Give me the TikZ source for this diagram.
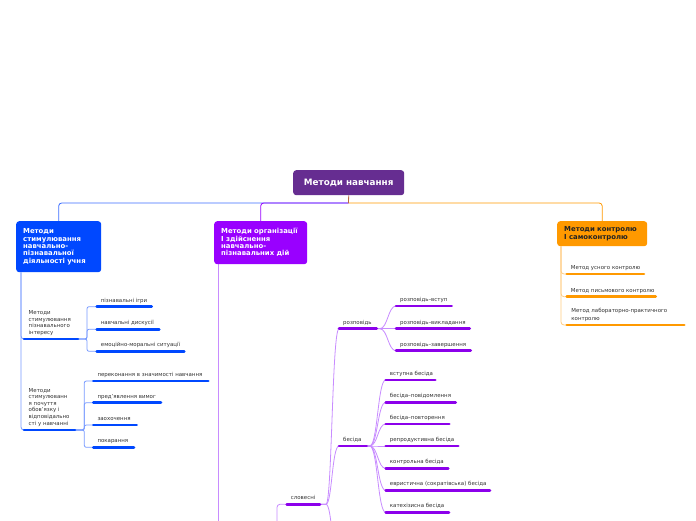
\documentclass[tikz,border=0pt]{standalone}
\usepackage{fontspec}
\setmainfont{DejaVu Sans}
\definecolor{rootc}{RGB}{102,45,145}
\definecolor{bluec}{RGB}{0,72,255}
\definecolor{bluel}{RGB}{120,155,255}
\definecolor{bluem}{RGB}{60,110,255}
\definecolor{purc}{RGB}{153,0,255}
\definecolor{purd}{RGB}{140,0,235}
\definecolor{purl}{RGB}{200,140,255}
\definecolor{orc}{RGB}{255,153,0}
\definecolor{orl}{RGB}{255,205,130}
\definecolor{txt}{RGB}{50,50,50}
\definecolor{dtxt}{RGB}{35,35,35}
\pgfdeclarelayer{back}
\pgfdeclarelayer{bg}
\pgfsetlayers{back,bg,main}
\tikzset{
  box/.style={rounded corners=3pt, anchor=north west, inner xsep=7pt, inner ysep=0pt,
    align=left, font=\fontsize{6.9}{7.3}\selectfont\bfseries},
  lf/.style={anchor=base west, inner sep=0pt, font=\fontsize{5.45}{6.6}\selectfont, text=txt},
  lfm/.style={lf, anchor=south west, align=left},
  ul/.style={line width=2.6pt, line cap=round},
  conn/.style={line width=0.8pt},
  curv/.style={conn, purl}
}
\newcommand\lfnode[6]{%
  \coordinate (#1u) at (#2,#3);
  \coordinate (#1e) at (#2+#4,#3);
  \node[lf] (#1) at (#2+4,#3-4.7) {#6};
  \draw[ul,#5] (#1u) -- (#1e);
}
\newcommand\lfmulti[7]{%
  \coordinate (#1u) at (#2,#3);
  \coordinate (#1e) at (#2+#4,#3);
  \node[lfm, font=\fontsize{5.45}{#7}\selectfont] (#1) at (#2+4.5,#3-3.5) {#6};
  \draw[ul,#5] (#1u) -- (#1e);
}
\begin{document}
\begin{tikzpicture}[x=1pt,y=-1pt]
\useasboundingbox (0,0) rectangle (696,520);
\clip (0,0) rectangle (696,520);
\begin{pgfonlayer}{back}
\fill[white] (0,0) rectangle (696,520);
\end{pgfonlayer}

% main nodes
\node[box, fill=rootc, text=white, minimum width=111pt, minimum height=25pt, text width=97pt,
  align=center, font=\fontsize{8.8}{9}\selectfont\bfseries] (root) at (293,170) {Методи навчання};
\node[box, fill=bluec, text=white, minimum height=51pt, text width=71pt] (bb) at (16,221)
  {Методи\\стимулювання\\навчально-\\пізнавальної\\діяльності учня};
\node[box, fill=purc, text=white, minimum height=43pt, text width=79pt] (pb) at (214,221)
  {\mbox{Методи організації}\\\mbox{І здійснення}\\навчально-\\\mbox{пізнавальних дій}};
\node[box, fill=orc, text=dtxt, minimum height=25pt, text width=76pt] (ob) at (557,221)
  {\mbox{Методи контролю}\\\mbox{І самоконтролю}};

% blue branch
\lfmulti{s1}{24}{339}{54}{bluec}{Методи\\стимулювання\\пізнавального\\інтересу}{6.4}
\lfnode{b1}{96.7}{306.7}{55}{bluec}{пізнавальні ігри}
\lfnode{b2}{96.7}{329.3}{62.6}{bluec}{навчальні дискусії}
\lfnode{b3}{96.7}{351.3}{87.6}{bluec}{емоційно-моральні ситуації}
\lfmulti{s2}{24}{430}{51}{bluec}{Методи\\стимулюванн\\я почуття\\обов'язку і\\відповідально\\сті у навчанні}{6.6}
\lfnode{b4}{93.3}{381}{115}{bluec}{переконання в значимості навчання}
\lfnode{b5}{93.3}{402.7}{67.7}{bluec}{пред'явлення вимог}
\lfnode{b6}{93.3}{425}{43.4}{bluec}{заохочення}
\lfnode{b7}{93.3}{447.3}{40.7}{bluec}{покарання}

% orange branch
\lfnode{o1}{566.7}{274}{77.3}{orc}{Метод усного контролю}
\lfnode{o2}{566.7}{296.7}{89}{orc}{Метод письмового контролю}
\lfmulti{o3}{566.7}{325}{117.6}{orc}{Метод лабораторно-практичного\\контролю}{7.3}

% purple branch
\lfnode{slov}{286.7}{504.3}{33.3}{purd}{словесні}
\lfnode{r0}{339}{328.7}{37.7}{purd}{розповідь}
\lfnode{r1}{396}{306}{55.7}{purd}{розповідь–вступ}
\lfnode{r2}{396}{328.7}{73.7}{purd}{розповідь–викладання}
\lfnode{r3}{396}{350.7}{74.7}{purd}{розповідь–завершення}
\lfnode{bs}{339}{446}{27.7}{purd}{бесіда}
\lfnode{q1}{385.7}{380}{49.6}{purd}{вступна бесіда}
\lfnode{q2}{385.7}{402.3}{70}{purd}{бесіда–повідомлення}
\lfnode{q3}{385.7}{424}{63.6}{purd}{бесіда–повторення}
\lfnode{q4}{385.7}{446}{72.6}{purd}{репродуктивна бесіда}
\lfnode{q5}{385.7}{468.3}{62.6}{purd}{контрольна бесіда}
\lfnode{q6}{385.7}{490.3}{104.3}{purd}{евристична (сократівська) бесіда}
\lfnode{q7}{385.7}{512.3}{63.3}{purd}{катехізисна бесіда}
\coordinate (pdown) at (218,560);
\coordinate (slovin) at (277,560);
\coordinate (slovoutu) at (339,560);

\begin{pgfonlayer}{bg}
% root connectors
\coordinate (rj) at (348.5,203);
\draw[conn, bluem, rounded corners=3pt] (rj) -| (bb.north);
\draw[conn, purc, rounded corners=3pt] (rj) -| (pb.north);
\draw[conn, orc, rounded corners=3pt] (rj) -| (ob.north);
\draw[conn, rootc!45!orc] (root.south) -- (rj);
% blue
\draw[conn, bluel, rounded corners=3pt] ([xshift=5pt]bb.south west) |- (s1u);
\draw[conn, bluel, rounded corners=3pt] ([xshift=5pt]bb.south west) |- (s2u);
\foreach \t in {b1,b2,b3}
  \draw[conn, bluel, rounded corners=2pt] (s1e) -- ++(9,0) |- (\t u);
\foreach \t in {b4,b5,b6,b7}
  \draw[conn, bluel, rounded corners=2pt] (s2e) -- ++(9.3,0) |- (\t u);
% orange
\foreach \t in {o1,o2,o3}
  \draw[conn, orl, rounded corners=3pt] ([xshift=4pt]ob.south west) |- (\t u);
% purple
\draw[conn, purl] ([xshift=4pt]pb.south west) -- (pdown);
\draw[conn, purl, rounded corners=3pt] (slovin) |- (slovu);
\foreach \t in {r0,bs,slovout}
  \draw[curv] (slove) -- ++(6,0) .. controls +(6,0) and +(-7,0) .. (\t u);
\foreach \t in {r1,r2,r3}
  \draw[curv] (r0e) -- ++(3,0) .. controls +(8,0) and +(-8,0) .. (\t u);
\foreach \t in {q1,q2,q3,q4,q5,q6,q7}
  \draw[curv] (bse) -- ++(3,0) .. controls +(8,0) and +(-8,0) .. (\t u);
\end{pgfonlayer}
\end{tikzpicture}
\end{document}
